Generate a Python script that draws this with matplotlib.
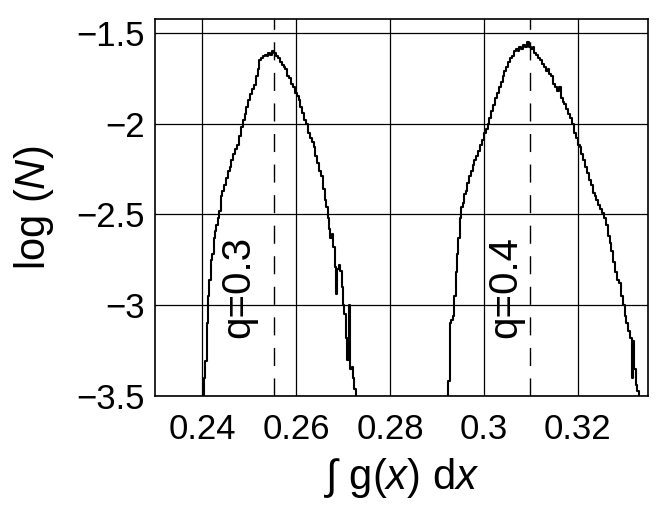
import matplotlib
matplotlib.use('Agg')
import matplotlib.pyplot as plt

plt.rcParams['font.family'] = ['Liberation Sans', 'DejaVu Sans']
plt.rcParams['mathtext.fontset'] = 'custom'
plt.rcParams['mathtext.rm'] = 'Liberation Sans'
plt.rcParams['mathtext.it'] = 'Liberation Sans:italic'

# histogram of log(N), q = 0.3
x_q3 = [0.2400, 0.2403, 0.2406, 0.2409, 0.2412, 0.2415, 0.2418, 0.2421, 0.2424, 0.2427,
        0.2430, 0.2433, 0.2436, 0.2439, 0.2442, 0.2446, 0.2450, 0.2454, 0.2458, 0.2462,
        0.2466, 0.2470, 0.2474, 0.2478, 0.2482, 0.2486, 0.2490, 0.2494, 0.2498, 0.2502,
        0.2506, 0.2510, 0.2514, 0.2518, 0.2521, 0.2525, 0.2529, 0.2533, 0.2537, 0.2541,
        0.2545, 0.2549, 0.2553, 0.2557, 0.2561, 0.2565, 0.2569, 0.2573, 0.2577, 0.2581,
        0.2585, 0.2589, 0.2593, 0.2597, 0.2601, 0.2605, 0.2609, 0.2613, 0.2617, 0.2621,
        0.2625, 0.2629, 0.2633, 0.2637, 0.2641, 0.2645, 0.2649, 0.2653, 0.2657, 0.2661,
        0.2664, 0.2667, 0.2670, 0.2673, 0.2676, 0.2679, 0.2682, 0.2685, 0.2688, 0.2691,
        0.2694, 0.2697, 0.2700, 0.2703, 0.2706, 0.2709, 0.2712, 0.2715, 0.2718, 0.2721,
        0.2724, 0.2727]
y_q3 = [-3.55, -3.40, -3.31, -3.10, -2.95, -2.86, -2.75, -2.72, -2.63, -2.59,
        -2.56, -2.52, -2.48, -2.40, -2.37, -2.34, -2.30, -2.26, -2.24, -2.20,
        -2.17, -2.14, -2.12, -2.07, -2.02, -1.98, -1.95, -1.91, -1.87, -1.84,
        -1.81, -1.79, -1.74, -1.70, -1.65, -1.64, -1.63, -1.62, -1.63, -1.61,
        -1.62, -1.60, -1.61, -1.63, -1.64, -1.66, -1.68, -1.69, -1.70, -1.74,
        -1.75, -1.78, -1.80, -1.83, -1.85, -1.87, -1.91, -1.94, -1.98, -2.00,
        -2.05, -2.08, -2.10, -2.13, -2.18, -2.22, -2.26, -2.29, -2.36, -2.42,
        -2.46, -2.52, -2.58, -2.63, -2.61, -2.68, -2.79, -2.94, -2.80, -2.78,
        -2.81, -2.90, -3.00, -3.05, -3.18, -3.30, -3.00, -3.35, -3.34, -3.40,
        -3.46, -3.55]

# histogram of log(N), q = 0.4
x_q4 = [0.2921, 0.2924, 0.2927, 0.2931, 0.2934, 0.2937, 0.2940, 0.2943, 0.2946, 0.2949,
        0.2952, 0.2955, 0.2958, 0.2961, 0.2964, 0.2968, 0.2972, 0.2976, 0.2980, 0.2984,
        0.2988, 0.2992, 0.2996, 0.3000, 0.3004, 0.3008, 0.3012, 0.3016, 0.3020, 0.3024,
        0.3028, 0.3032, 0.3036, 0.3040, 0.3044, 0.3048, 0.3052, 0.3056, 0.3060, 0.3064,
        0.3068, 0.3072, 0.3076, 0.3080, 0.3084, 0.3088, 0.3092, 0.3096, 0.3100, 0.3104,
        0.3108, 0.3112, 0.3116, 0.3120, 0.3124, 0.3128, 0.3132, 0.3136, 0.3140, 0.3144,
        0.3148, 0.3152, 0.3156, 0.3160, 0.3164, 0.3168, 0.3172, 0.3176, 0.3180, 0.3184,
        0.3188, 0.3192, 0.3196, 0.3200, 0.3204, 0.3208, 0.3212, 0.3216, 0.3220, 0.3224,
        0.3228, 0.3232, 0.3236, 0.3240, 0.3244, 0.3248, 0.3252, 0.3256, 0.3260, 0.3264,
        0.3268, 0.3272, 0.3276, 0.3280, 0.3284, 0.3288, 0.3292, 0.3296, 0.3300, 0.3304,
        0.3308, 0.3312, 0.3315, 0.3318, 0.3321, 0.3324, 0.3327, 0.3330]
y_q4 = [-3.55, -3.42, -3.10, -3.08, -3.06, -2.95, -2.82, -2.72, -2.63, -2.52,
        -2.46, -2.44, -2.39, -2.37, -2.33, -2.29, -2.26, -2.23, -2.20, -2.18,
        -2.15, -2.12, -2.09, -2.05, -2.03, -2.00, -1.97, -1.93, -1.90, -1.86,
        -1.83, -1.80, -1.77, -1.74, -1.71, -1.69, -1.66, -1.64, -1.63, -1.60,
        -1.59, -1.60, -1.58, -1.59, -1.57, -1.58, -1.55, -1.58, -1.59, -1.58,
        -1.61, -1.62, -1.64, -1.65, -1.67, -1.69, -1.71, -1.70, -1.73, -1.74,
        -1.78, -1.80, -1.82, -1.80, -1.86, -1.88, -1.89, -1.92, -1.95, -1.97,
        -2.00, -2.05, -2.08, -2.12, -2.13, -2.17, -2.20, -2.24, -2.27, -2.31,
        -2.34, -2.38, -2.40, -2.42, -2.45, -2.47, -2.49, -2.52, -2.56, -2.62,
        -2.66, -2.70, -2.76, -2.82, -2.86, -2.88, -2.95, -3.00, -3.06, -3.10,
        -3.14, -3.18, -3.40, -3.20, -3.35, -3.44, -3.47, -3.55]

q_values = ['q=0.3', 'q=0.4']
q_peaks = [0.2553, 0.3099]
q_label_x = [0.2476, 0.3045]
q_label_y = -2.90

xticks = [0.24, 0.26, 0.28, 0.30, 0.32]
xticklabels = ['0.24', '0.26', '0.28', '0.3', '0.32']
yticks = [-3.5, -3.0, -2.5, -2.0, -1.5]
yticklabels = ['\u22123.5', '\u22123', '\u22122.5', '\u22122', '\u22121.5']

fig = plt.figure(figsize=(6.64, 5.12), dpi=100)
ax = fig.add_axes([0.2334, 0.2266, 0.7425, 0.7363])

ax.plot(x_q3, y_q3, drawstyle='steps-post', color='k', lw=1.5)
ax.plot(x_q4, y_q4, drawstyle='steps-post', color='k', lw=1.5)

for xp in q_peaks:
    ax.axvline(xp, color='k', lw=1.0, dashes=(13, 9))

for lab, xl in zip(q_values, q_label_x):
    ax.text(xl, q_label_y, lab, rotation=90, ha='center', va='center', fontsize=29)

ax.set_xlim(0.2299, 0.3350)
ax.set_ylim(-3.5, -1.4245)
ax.set_xticks(xticks)
ax.set_xticklabels(xticklabels)
ax.set_yticks(yticks)
ax.set_yticklabels(yticklabels)
ax.tick_params(length=0, labelsize=25)
ax.tick_params(axis='x', pad=12)
ax.tick_params(axis='y', pad=7)
ax.grid(True, color='k', lw=0.9)
for s in ax.spines.values():
    s.set_linewidth(1.2)

ax.set_xlabel('\u222b g($x$) d$x$', fontsize=30)
ax.set_ylabel('log ($N$)', fontsize=30)
ax.xaxis.set_label_coords(0.5, -0.158)
ax.yaxis.set_label_coords(-0.201, 0.5)

plt.savefig('out.png', dpi=100)
